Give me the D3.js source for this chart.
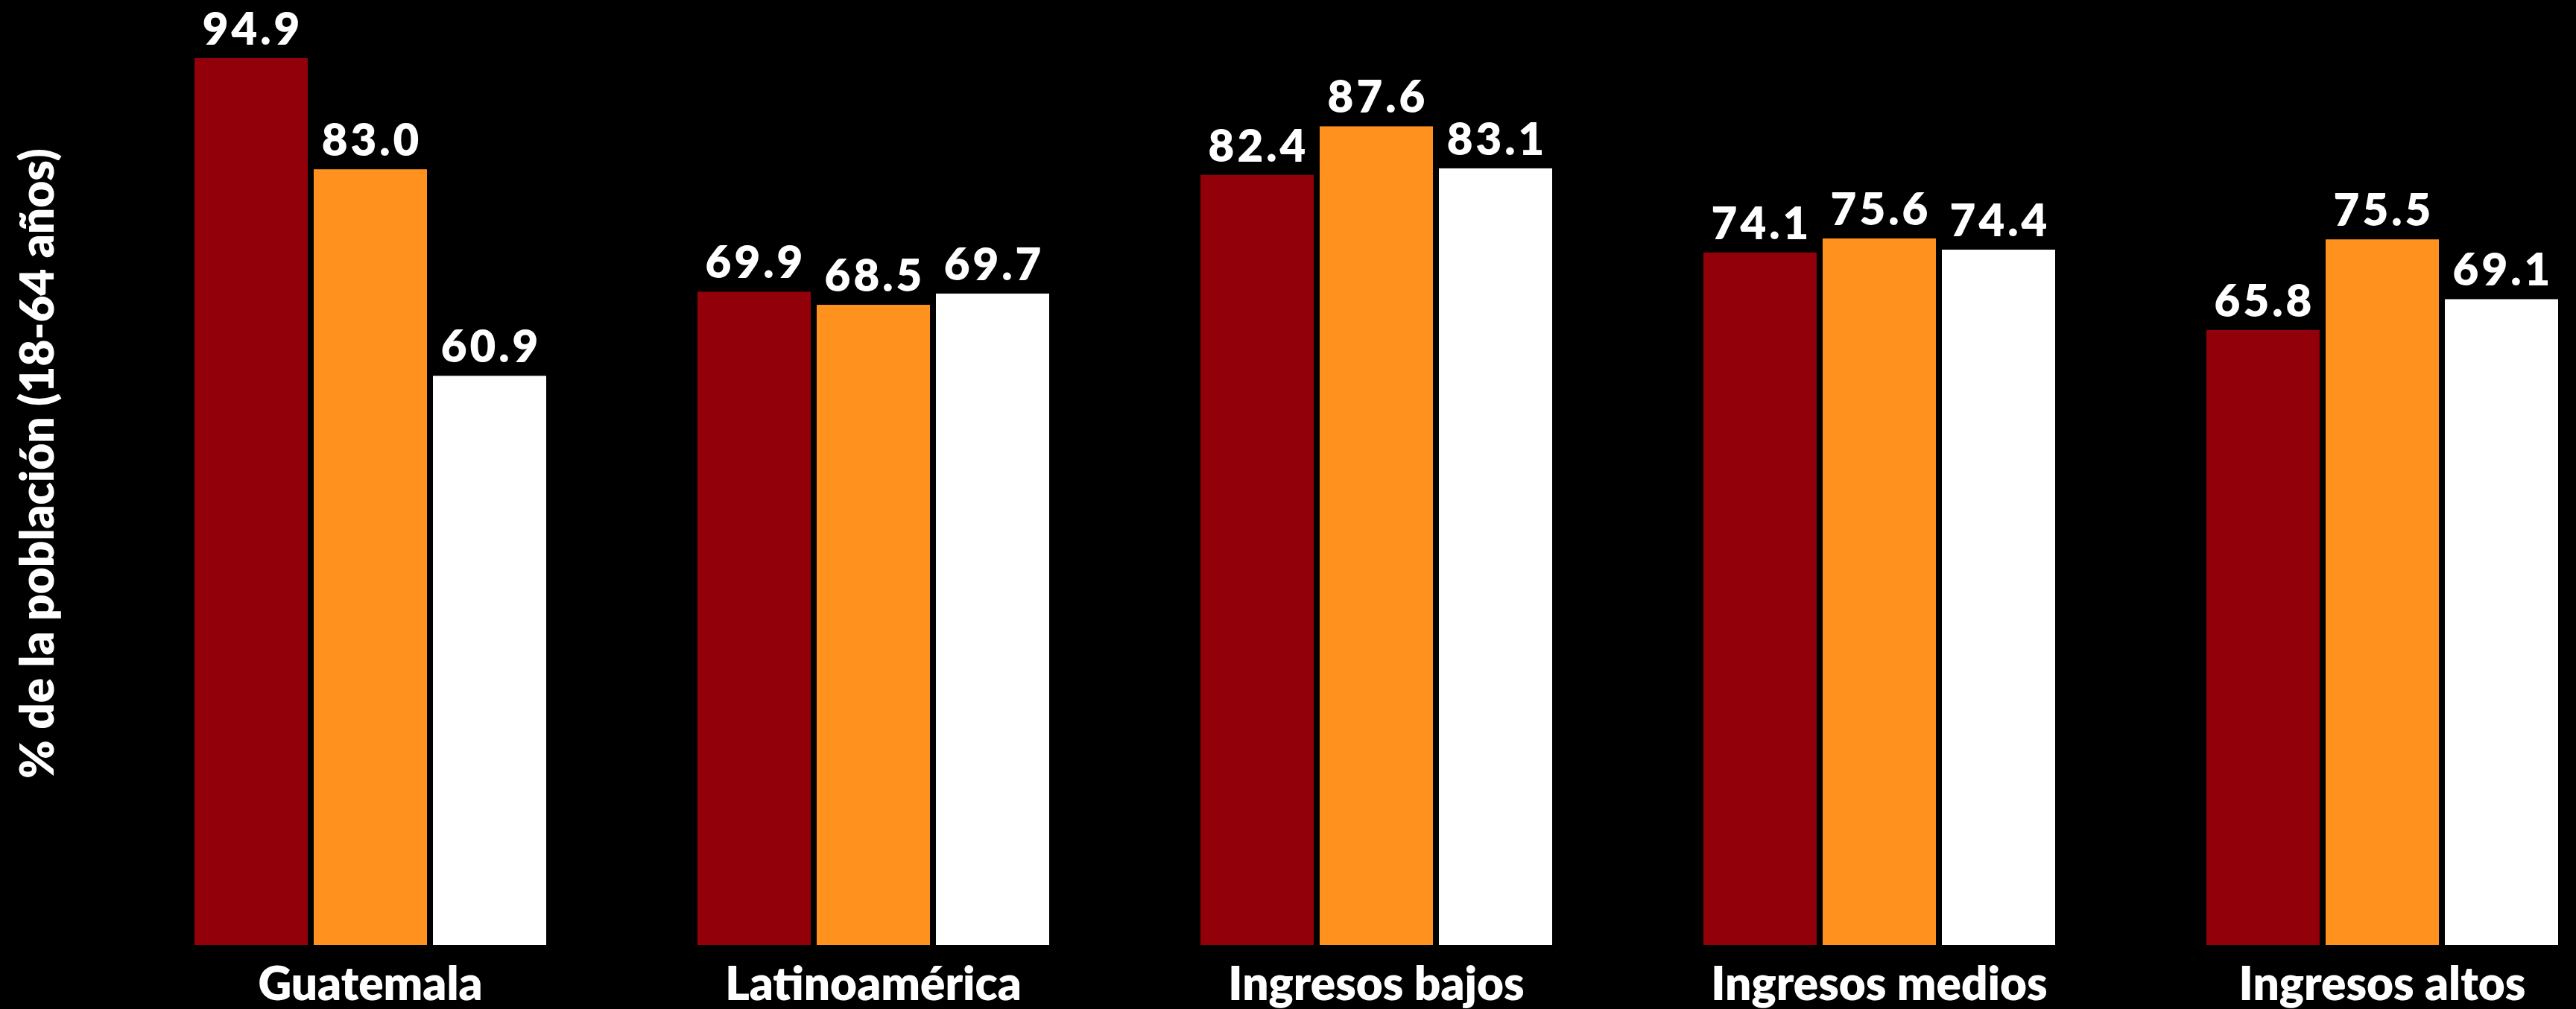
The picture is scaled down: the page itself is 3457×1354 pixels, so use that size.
<!DOCTYPE html>
<html>
<head>
<meta charset="utf-8">
<script src="https://cdn.jsdelivr.net/npm/d3@7"></script>
<style>
  html, body { margin: 0; padding: 0; background: #000; }
  svg { display: block; }
  text { font-family: Lato, "Open Sans", sans-serif; fill: #fff; }
</style>
</head>
<body>
<svg id="chart" width="3457" height="1354"></svg>
<script>
const categories = ["Guatemala", "Latinoamérica", "Ingresos bajos", "Ingresos medios", "Ingresos altos"];
const seriesNames = ["Serie 1", "Serie 2", "Serie 3"];
const series1 = [94.9, 69.9, 82.4, 74.1, 65.8];
const series2 = [83.0, 68.5, 87.6, 75.6, 75.5];
const series3 = [60.9, 69.7, 83.1, 74.4, 69.1];
const seriesColors = ["#92000A", "#FF911E", "#FFFFFF"];
const yTitle = "% de la población (18-64 años)";

const seriesValues = [series1, series2, series3];
const data = categories.map((c, i) => ({
  category: c,
  values: seriesNames.map((s, j) => ({ series: s, idx: j, value: seriesValues[j][i] }))
}));

const svg = d3.select("#chart");
const baseY = 1268;

const x = d3.scaleBand().domain(categories).range([261, 3433]).paddingInner(0.3007).paddingOuter(0);
const xs = d3.scaleBand().domain(seriesNames).range([0, x.bandwidth()]).paddingInner(0.05).paddingOuter(0);
const y = d3.scaleLinear().domain([0, 100]).range([baseY, baseY - 1254]);
const color = d3.scaleOrdinal().domain(seriesNames).range(seriesColors);
const fmt = d3.format(".1f");

const groups = svg.append("g").selectAll("g.grp")
  .data(data).join("g")
  .attr("class", "grp")
  .attr("transform", d => `translate(${x(d.category)},0)`);

groups.selectAll("rect")
  .data(d => d.values).join("rect")
  .attr("x", d => xs(d.series))
  .attr("width", xs.bandwidth())
  .attr("y", d => y(d.value))
  .attr("height", d => y(0) - y(d.value))
  .attr("fill", d => color(d.series));

groups.selectAll("text.val")
  .data(d => d.values).join("text")
  .attr("class", "val")
  .attr("x", d => xs(d.series) + xs.bandwidth() / 2 + 2)
  .attr("y", d => y(d.value) - 18)
  .attr("text-anchor", "middle")
  .style("font-size", "60px")
  .style("font-weight", 800)
  .style("letter-spacing", "4px")
  .text(d => fmt(d.value));

// x axis (category labels)
const xAxis = d3.axisBottom(x).tickSize(0).tickPadding(0);
const gx = svg.append("g").attr("transform", `translate(0,${baseY})`).call(xAxis);
gx.select(".domain").remove();
gx.selectAll(".tick text")
  .attr("dy", null)
  .attr("y", 74)
  .style("font-size", "62px")
  .style("font-weight", 800)
  .style("font-family", "Lato, 'Open Sans', sans-serif")
  .attr("fill", "#fff");

// y axis title
svg.append("text")
  .attr("transform", `translate(72,622) rotate(-90)`)
  .attr("text-anchor", "middle")
  .style("font-size", "62px")
  .style("font-weight", 800)
  .text(yTitle);
</script>
</body>
</html>
